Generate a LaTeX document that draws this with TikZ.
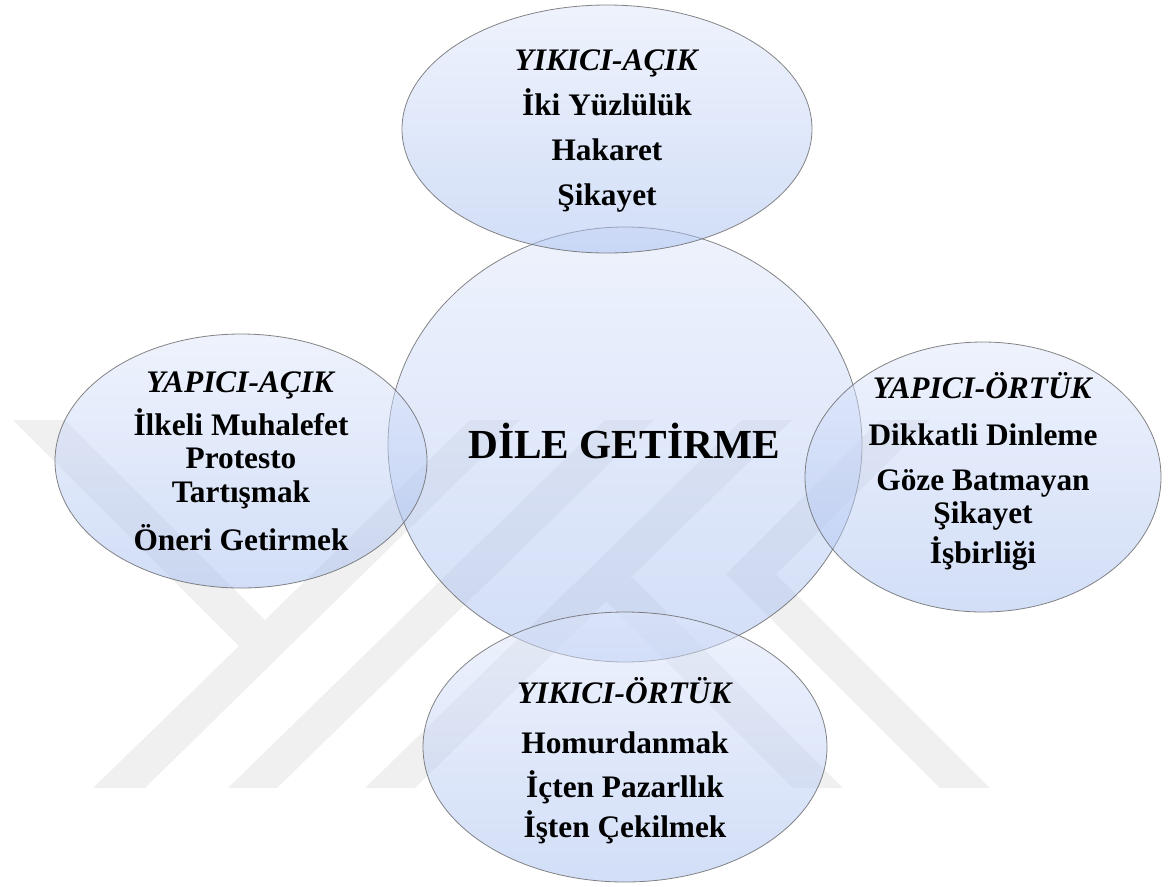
\documentclass[tikz,border=0pt]{standalone}
\usepackage{fontspec}
\setmainfont{Liberation Serif}
\usetikzlibrary{shapes.geometric}

\definecolor{blobtop}{RGB}{222,230,251}
\definecolor{blobbot}{RGB}{165,190,240}

\tikzset{
  blob/.style 2 args={ellipse, inner sep=0pt, minimum width=#1, minimum height=#2,
      draw=gray!80!black, line width=0.6pt, draw opacity=0.8,
      top color=blobtop, bottom color=blobbot, fill opacity=0.5},
  lbl/.style={anchor=base, inner sep=0pt, font=\fontsize{23.5}{28}\selectfont\bfseries},
  wmark/.style={fill=black!6}
}

\begin{document}
\begin{tikzpicture}[x=0.75pt,y=-0.75pt]
    \useasboundingbox (0,0) rectangle (1173,886);

    % Watermark in the background
    \fill[wmark] (13,420) -- (65,420) -- (265,620) -- (470,420) -- (520,420)
      -- (145,788) -- (93,788) -- (239,646) -- cycle;
    \fill[wmark] (228,788) -- (277,788) -- (654,420) -- (605,420) -- cycle;
    \fill[wmark] (365,788) -- (415,788) -- (792,420) -- (742,420) -- cycle;
    \fill[wmark] (606,601) -- (632,577) -- (843,788) -- (793,788) -- cycle;
    \fill[wmark] (880,420) -- (930,420) -- (776,574) -- (990,788) -- (940,788)
      -- (726,574) -- cycle;

    % Ellipses
    \node[blob={355.5pt}{326.25pt}] (center) at (625,444.5) {};
    \node[blob={307.5pt}{186pt}] (top) at (607,129) {};
    \node[blob={279pt}{190.5pt}] (left) at (241,461) {};
    \node[blob={267pt}{202.5pt}] (right) at (983,477) {};
    \node[blob={303pt}{202.5pt}] (bottom) at (625,747) {};

    % Texts
    \node[lbl, font=\fontsize{31}{36}\selectfont\bfseries] (title) at (624,458) {DİLE GETİRME};

    \foreach \txt/\yy [count=\i] in {{\textit{YIKICI-AÇIK}}/70, İki Yüzlülük/115,
        Hakaret/160, Şikayet/205}
      \node[lbl] (top\i) at (607,\yy) {\txt};

    \foreach \txt/\yy [count=\i] in {{\textit{YAPICI-AÇIK}}/392, İlkeli Muhalefet/435,
        Protesto/468, Tartışmak/502, Öneri Getirmek/550}
      \node[lbl] (left\i) at (241,\yy) {\txt};

    \foreach \txt/\yy [count=\i] in {{\textit{YAPICI-ÖRTÜK}}/398, Dikkatli Dinleme/445,
        Göze Batmayan/490, Şikayet/523, İşbirliği/563}
      \node[lbl] (right\i) at (983,\yy) {\txt};

    \foreach \txt/\yy [count=\i] in {{\textit{YIKICI-ÖRTÜK}}/703, Homurdanmak/753,
        İçten Pazarllık/797, İşten Çekilmek/837}
      \node[lbl] (bottom\i) at (625,\yy) {\txt};
\end{tikzpicture}
\end{document}
